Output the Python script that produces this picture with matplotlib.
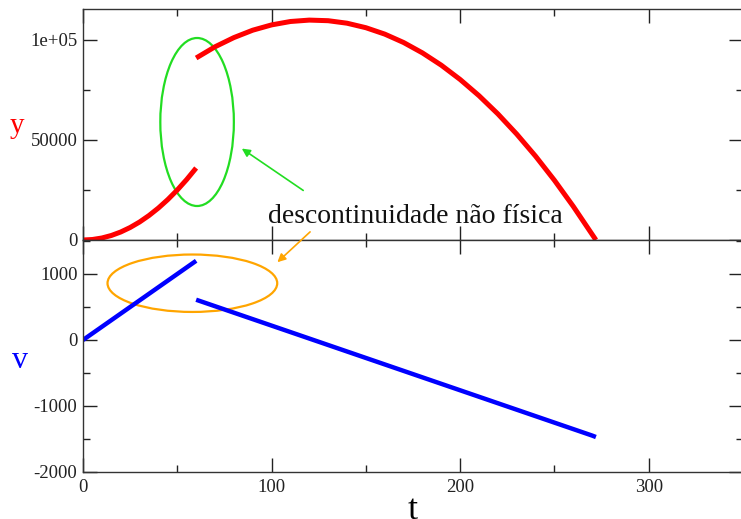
import matplotlib
matplotlib.use("Agg")
import matplotlib.pyplot as plt
from matplotlib.patches import Ellipse
from matplotlib.ticker import MultipleLocator

plt.rcParams['font.family'] = ['Liberation Serif', 'DejaVu Serif']
plt.rcParams['axes.unicode_minus'] = False

# first stage (before discontinuity)
t1 = [0, 5, 10, 15, 20, 25, 30, 35, 40, 45, 50, 55, 60]
y1 = [0, 250, 1000, 2250, 4000, 6250, 9000, 12250, 16000, 20250, 25000, 30250, 36000]
v1 = [0, 100, 200, 300, 400, 500, 600, 700, 800, 900, 1000, 1100, 1200]

# second stage (after discontinuity)
t2 = [60, 70, 80, 90, 100, 110, 120, 130, 140, 150, 160, 170, 180, 190,
      200, 210, 220, 230, 240, 250, 260, 270, 272]
y2 = [91000, 96600, 101200, 104900, 107550, 109250, 109950, 109650, 108400,
      106150, 102950, 98750, 93550, 87400, 80250, 72150, 63050, 52950, 41900,
      29850, 16800, 2800, 0]
v2 = [610, 512, 414, 316, 218, 120, 22, -76, -174, -272, -370, -468, -566,
      -664, -762, -860, -958, -1056, -1154, -1252, -1350, -1448, -1470]

xticks = [0, 100, 200, 300]
yticks = [0, 50000, 100000]
ytick_labels = ['0', '50000', '1e+05']
vticks = [-2000, -1000, 0, 1000]

fig = plt.figure(figsize=(7.41, 5.19), dpi=100)
L, R = 83 / 741, 743 / 741
ax1 = fig.add_axes([L, 1 - 240 / 519, R - L, (240 - 9) / 519])
ax2 = fig.add_axes([L, 1 - 472 / 519, R - L, (472 - 240) / 519], sharex=ax1)

ax1.plot(t1, y1, color='red', lw=3.6, solid_capstyle='butt')
ax1.plot(t2, y2, color='red', lw=3.6, solid_capstyle='butt')
ax2.plot(t1, v1, color='blue', lw=3.2, solid_capstyle='butt')
ax2.plot(t2, v2, color='blue', lw=3.2, solid_capstyle='butt')

ax1.set_xlim(0, 350)
ax1.set_ylim(0, 115500)
ax2.set_ylim(-2000, 1515)

for ax in (ax1, ax2):
    for s in ax.spines.values():
        s.set_color('#333333')
        s.set_linewidth(1.0)
    ax.tick_params(which='both', direction='in', top=True, right=True,
                   colors='#222222', labelsize=13.5, width=1.0)
    ax.tick_params(which='major', length=10)
    ax.tick_params(which='minor', length=5)
    ax.tick_params(axis='y', which='major', pad=4)
    ax.tick_params(axis='x', which='major', pad=5)
    ax.xaxis.set_minor_locator(MultipleLocator(50))

ax1.set_yticks(yticks)
ax1.set_yticklabels(ytick_labels)
ax1.yaxis.set_minor_locator(MultipleLocator(25000))
ax1.tick_params(labelbottom=False)

ax2.set_yticks(vticks)
ax2.yaxis.set_minor_locator(MultipleLocator(500))
ax2.set_xticks(xticks)

ax1.set_ylabel('y', color='red', fontsize=21, rotation=0, va='center', ha='center')
ax1.yaxis.set_label_coords(-0.1, 0.495)
ax2.set_ylabel('v', color='blue', fontsize=23, rotation=0, va='center', ha='center')
ax2.yaxis.set_label_coords(-0.095, 0.48)
ax2.set_xlabel('t', fontsize=26, va='top')
ax2.xaxis.set_label_coords(0.5, -0.095)

# annotations
ax1.add_patch(Ellipse((60.5, 59000), 39, 84000, fill=False, edgecolor='#22dd22', lw=1.6))
ax1.annotate('', xy=(83, 46500), xytext=(118, 24000),
             arrowprops=dict(arrowstyle='-|>', color='#22dd22', lw=1.2,
                             mutation_scale=12))
ax1.text(98, 8500, 'descontinuidade não física', fontsize=20, color='#111111')

ax2.add_patch(Ellipse((58, 860), 90, 870, fill=False, edgecolor='orange', lw=1.6))
ax2.annotate('', xy=(102, 1150), xytext=(121.5, 5000), textcoords=ax1.transData,
             arrowprops=dict(arrowstyle='-|>', color='orange', lw=1.2,
                             mutation_scale=12))

fig.savefig('out.png', dpi=100)
